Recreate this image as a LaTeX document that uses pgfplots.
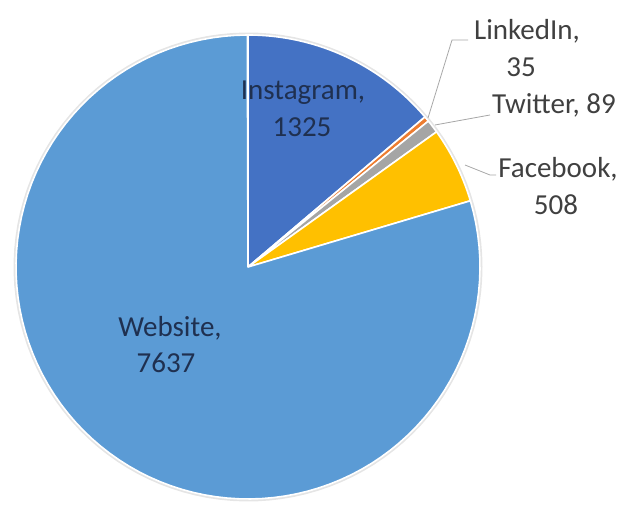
\documentclass[border=0pt]{standalone}
\usepackage{pgfplots}
\pgfplotsset{compat=1.18}
\usepackage{fontspec}
\setmainfont{Carlito}
\definecolor{cWeb}{HTML}{5B9BD5}
\definecolor{cIns}{HTML}{4472C4}
\definecolor{cLin}{HTML}{ED7D31}
\definecolor{cTwi}{HTML}{A5A5A5}
\definecolor{cFac}{HTML}{FFC000}
\definecolor{txt}{HTML}{404040}
\definecolor{txtin}{HTML}{1F3050}
\definecolor{lead}{HTML}{A6A6A6}
% data
\def\vIns{1325}
\def\vLin{35}
\def\vTwi{89}
\def\vFac{508}
\def\vWeb{7637}
\pgfmathsetmacro\total{\vIns+\vLin+\vTwi+\vFac+\vWeb}
\pgfmathsetmacro\aA{90}
\pgfmathsetmacro\aB{\aA-(\vIns/\total)*360}
\pgfmathsetmacro\aC{\aB-(\vLin/\total)*360}
\pgfmathsetmacro\aD{\aC-(\vTwi/\total)*360}
\pgfmathsetmacro\aE{\aD-(\vFac/\total)*360}
\pgfmathsetmacro\aF{\aE-(\vWeb/\total)*360}
\def\cx{248}\def\cy{241}\def\rr{232}
\newcommand{\slice}[3]{%
  \addplot[fill=#3, draw=white, line width=1.6pt, line join=round,
    samples at={-1,0,0.01,...,1}, variable=\t]
   ({ifthenelse(\t<0,\cx,\cx+\rr*cos(#1+(#2-#1)*\t))},
    {ifthenelse(\t<0,\cy,\cy+\rr*sin(#1+(#2-#1)*\t))}) -- cycle;}
\begin{document}
\begin{tikzpicture}
\begin{axis}[width=629pt,height=508pt,scale only axis,
  xmin=0,xmax=629,ymin=0,ymax=508,hide axis,clip=false]
\addplot[draw=black!10, line width=3pt, samples=120, domain=0:360]
  ({\cx+(\rr+1)*cos(x)},{\cy+(\rr+1)*sin(x)});
\slice{\aA}{\aB}{cIns}
\slice{\aB}{\aC}{cLin}
\slice{\aC}{\aD}{cTwi}
\slice{\aD}{\aE}{cFac}
\slice{\aE}{\aF}{cWeb}
% leader lines
\addplot[lead, line width=0.8pt] coordinates {(428,390) (452,468) (468,468)};
\addplot[lead, line width=0.8pt] coordinates {(435,383) (490,393)};
\addplot[lead, line width=0.8pt] coordinates {(465,343) (490,333) (496,333)};
% labels
\tikzset{lbl/.style={text=txt, font=\fontsize{29}{37}\selectfont, inner sep=0pt, anchor=base}}
\node[lbl, text=txtin] at (axis cs:303,408) {Instagram,};
\node[lbl, text=txtin] at (axis cs:302,371) {1325};
\node[lbl, text=txtin] at (axis cs:170,171) {Website,};
\node[lbl, text=txtin] at (axis cs:166,135) {7637};
\node[lbl] at (axis cs:527,468) {LinkedIn,};
\node[lbl] at (axis cs:521,431) {35};
\node[lbl, anchor=base west] at (axis cs:492,394) {Twitter, 89};
\node[lbl] at (axis cs:558,330) {Facebook,};
\node[lbl] at (axis cs:556,293) {508};
\end{axis}
\pgfresetboundingbox
\useasboundingbox (current axis.south west) rectangle (current axis.north east);
\end{tikzpicture}
\end{document}
